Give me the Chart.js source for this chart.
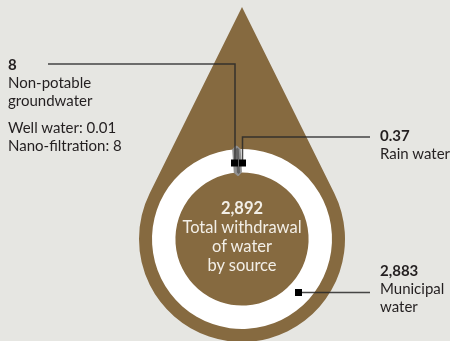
<!DOCTYPE html>
<html lang="en">
<head>
    <meta charset="UTF-8">
    <title>Total withdrawal of water by source</title>
    <style>
        body {
            margin: 0;
            background: #e6e6e2;
            font-family: Lato, "Open Sans", sans-serif;
            color: #231f20;
        }
        .wrap {
            position: relative;
            width: 450px;
            height: 341px;
            overflow: hidden;
        }
        canvas {
            position: absolute;
            left: 0;
            top: 0;
        }
        .label {
            position: absolute;
            font-size: 15px;
            line-height: 18px;
            white-space: nowrap;
        }
        .label b {
            font-weight: 700;
        }
        .label .sub {
            margin-top: 9px;
        }
        .center {
            position: absolute;
            left: 152px;
            width: 180px;
            top: 199px;
            text-align: center;
            color: #f3efe7;
            font-size: 16.5px;
            line-height: 19px;
        }
    </style>
</head>
<body>
    <div class="wrap">
        <canvas id="waterDrop" width="450" height="341"></canvas>

        <div class="label" id="lblGround" style="left:8px; top:55px;"></div>
        <div class="label" id="lblRain" style="left:380px; top:126px;"></div>
        <div class="label" id="lblMunicipal" style="left:380px; top:261px;"></div>
        <div class="center" id="lblTotal"></div>
    </div>

    <script src="https://cdn.jsdelivr.net/npm/chart.js"></script>

    <script>
        // Withdrawal by source (megalitres)
        const sources = ['Municipal water', 'Non-potable groundwater', 'Rain water'];
        const withdrawal = [2883, 8, 0.37];
        const totalWithdrawal = 2892;

        // Groundwater breakdown
        const groundParts = ['Well water', 'Nano-filtration'];
        const groundValues = [0.01, 8];

        const fmt = v => v.toLocaleString('en-US');

        // text labels
        document.getElementById('lblGround').innerHTML =
            '<b>' + fmt(withdrawal[1]) + '</b><br>Non-potable<br>groundwater' +
            '<div class="sub">' + groundParts.map((p, i) => p + ': ' + fmt(groundValues[i])).join('<br>') + '</div>';
        document.getElementById('lblRain').innerHTML =
            '<b>' + fmt(withdrawal[2]) + '</b><br>Rain water';
        document.getElementById('lblMunicipal').innerHTML =
            '<b>' + fmt(withdrawal[0]) + '</b><br>Municipal<br>water';
        document.getElementById('lblTotal').innerHTML =
            '<b>' + fmt(totalWithdrawal) + '</b><br>Total withdrawal<br>of water<br>by source';

        const BROWN = '#866a40';

        // brown drop behind the ring
        const dropShape = {
            id: 'dropShape',
            beforeDatasetsDraw(chart) {
                const arc = chart.getDatasetMeta(0).data[0];
                const cx = arc.x, cy = arc.y;
                const R = 103, d = 232;
                const beta = Math.PI / 2 - Math.asin(R / d);
                const ctx = chart.ctx;
                ctx.save();
                ctx.fillStyle = BROWN;
                ctx.beginPath();
                ctx.moveTo(cx, cy - d);
                ctx.arc(cx, cy, R, -Math.PI / 2 + beta, -Math.PI / 2 - beta + Math.PI * 2, false);
                ctx.closePath();
                ctx.fill();
                ctx.restore();
            }
        };

        // leader lines with square markers
        const leaders = {
            id: 'leaders',
            afterDatasetsDraw(chart) {
                const arc = chart.getDatasetMeta(0).data[0];
                const cx = arc.x, cy = arc.y;
                const ctx = chart.ctx;
                ctx.save();
                ctx.strokeStyle = 'rgba(40,40,40,0.85)';
                ctx.lineWidth = 1.5;
                const paths = [
                    [[48, 64], [cx - 7, 64], [cx - 7, cy - 76]],
                    [[370, 137], [cx + 0.5, 137], [cx + 0.5, cy - 76]],
                    [[cx + 56.5, cy + 53.5], [370, cy + 53.5]]
                ];
                paths.forEach(p => {
                    ctx.beginPath();
                    ctx.moveTo(p[0][0], p[0][1]);
                    p.slice(1).forEach(pt => ctx.lineTo(pt[0], pt[1]));
                    ctx.stroke();
                });
                ctx.fillStyle = '#000';
                [[cx - 7.5, cy - 76], [cx + 0.5, cy - 76], [cx + 56.5, cy + 53.5]].forEach(s => {
                    ctx.fillRect(s[0] - 3.5, s[1] - 3.5, 7, 7);
                });
                ctx.restore();
            }
        };

        new Chart(document.getElementById('waterDrop'), {
            type: 'doughnut',
            data: {
                labels: sources,
                datasets: [{
                    data: withdrawal,
                    backgroundColor: ['#ffffff', '#929292', '#626262'],
                    borderColor: ['#ffffff', '#929292', '#626262'],
                    borderWidth: [0, 7, 3],
                    radius: 90,
                    cutout: 64
                }]
            },
            options: {
                responsive: false,
                animation: false,
                rotation: -3,
                layout: {
                    padding: { left: 152, right: 118, top: 149, bottom: 12 }
                },
                plugins: {
                    legend: { display: false },
                    tooltip: { enabled: false }
                },
                events: []
            },
            plugins: [dropShape, leaders]
        });
    </script>
</body>
</html>
